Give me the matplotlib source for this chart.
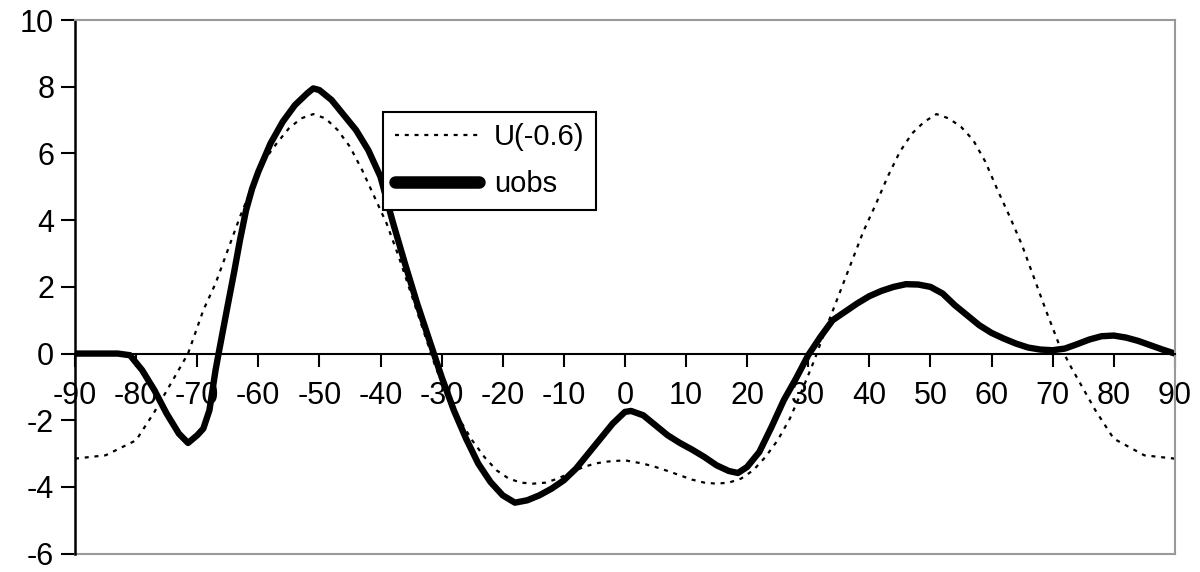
import matplotlib
matplotlib.use("Agg")
from matplotlib import pyplot as plt

plt.rcParams['font.family'] = ['Liberation Sans', 'DejaVu Sans']
plt.rcParams['axes.unicode_minus'] = False

# U(-0.6) profile
u_lat = [-90, -85, -80, -77, -74, -71.5, -69, -67, -65, -63, -61, -59, -57, -55, -53,
         -51, -49, -47, -45, -43, -41, -39, -37, -35, -33, -31, -29, -27, -25, -23,
         -21, -19, -17, -15, -13, -11, -9, -7, -5, -3, 0, 3, 5, 7, 9, 11, 13, 15, 17,
         19, 21, 23, 25, 27, 29, 31, 33, 35, 37, 39, 41, 43, 45, 47, 49, 51, 53, 55,
         57, 59, 61, 63, 65, 67, 69, 71, 73, 75, 77, 80, 85, 90]
u_val = [-3.15, -3.05, -2.6, -1.75, -0.8, 0.0, 1.3, 2.1, 3.1, 4.1, 5.0, 5.8, 6.3, 6.75, 7.05,
         7.18, 7.05, 6.7, 6.2, 5.5, 4.7, 3.9, 2.9, 1.8, 0.7, -0.4, -1.3, -2.0, -2.6, -3.1,
         -3.5, -3.75, -3.87, -3.9, -3.87, -3.75, -3.58, -3.42, -3.3, -3.24, -3.2, -3.3, -3.4,
         -3.52, -3.65, -3.78, -3.87, -3.9, -3.87, -3.75, -3.5, -3.1, -2.6, -1.95, -1.1, -0.2,
         0.8, 1.75, 2.7, 3.65, 4.45, 5.3, 6.05, 6.6, 6.95, 7.18, 7.05, 6.8, 6.4, 5.75, 4.9,
         4.1, 3.25, 2.25, 1.25, 0.3, -0.4, -1.05, -1.7, -2.55, -3.05, -3.15]

# observed profile
obs_lat = [-90, -85, -83, -81, -79, -77, -75, -73, -71.5, -70, -69, -68, -67, -66.5, -65,
           -64, -63, -62, -61, -60, -58, -56, -54, -52, -51, -50, -48, -46, -44, -42, -40,
           -38, -36, -34, -32, -30, -28, -26, -24, -22, -20, -18, -16, -14, -12, -10, -8,
           -6, -4, -2, 0, 1, 3, 5, 7, 9, 11, 13, 15, 17, 18.5, 20, 22, 24, 26, 28, 30, 32,
           34, 36, 38, 40, 42, 44, 46, 48, 50, 52, 54, 56, 58, 60, 62, 64, 66, 68, 70, 72,
           74, 76, 78, 80, 82, 84, 86, 88, 90]
obs_val = [0, 0, 0, -0.05, -0.5, -1.1, -1.8, -2.4, -2.68, -2.45, -2.25, -1.7, -0.5, 0.0, 1.45,
           2.4, 3.4, 4.3, 4.95, 5.45, 6.3, 6.95, 7.45, 7.8, 7.95, 7.9, 7.6, 7.15, 6.7, 6.1, 5.3,
           3.95, 2.7, 1.5, 0.4, -0.7, -1.7, -2.55, -3.3, -3.85, -4.25, -4.47, -4.4, -4.25,
           -4.05, -3.8, -3.45, -3.0, -2.55, -2.1, -1.75, -1.72, -1.85, -2.15, -2.45, -2.68,
           -2.88, -3.1, -3.35, -3.52, -3.58, -3.4, -2.95, -2.2, -1.4, -0.75, -0.05, 0.5, 1.0,
           1.25, 1.5, 1.72, 1.88, 2.0, 2.08, 2.07, 2.0, 1.8, 1.45, 1.15, 0.85, 0.62, 0.45,
           0.3, 0.18, 0.12, 0.1, 0.15, 0.28, 0.42, 0.52, 0.54, 0.48, 0.38, 0.25, 0.12, 0]

x_ticks = list(range(-90, 91, 10))
y_ticks = list(range(-6, 11, 2))

fig = plt.figure(figsize=(12, 5.72), dpi=100)
ax = fig.add_axes([0.0625, 0.032, 0.9165, 0.933])

ax.plot(u_lat, u_val, color='black', lw=1.6, linestyle=(0, (1.8, 2.6)), label='U(-0.6)')
ax.plot(obs_lat, obs_val, color='black', lw=4.6, solid_capstyle='round', label='uobs')

ax.set_xlim(-90, 90)
ax.set_ylim(-6, 10)
ax.set_xticks(x_ticks)
ax.set_yticks(y_ticks)
ax.tick_params(axis='both', labelsize=22, width=1.5, color='black')
ax.tick_params(axis='y', direction='out', length=10, pad=5)
ax.tick_params(axis='x', direction='out', length=9, pad=11)

# x axis runs through zero, frame in grey
ax.spines['bottom'].set_position(('data', 0))
ax.spines['bottom'].set_linewidth(1.5)
ax.spines['left'].set_linewidth(1.8)
for side in ['top', 'right']:
    ax.spines[side].set_color('#999999')
    ax.spines[side].set_linewidth(1.5)
ax.axhline(-6, color='#999999', lw=1.5, clip_on=False)

leg = ax.legend(loc='upper left', bbox_to_anchor=(0.28, 0.828), fontsize=21,
                frameon=True, fancybox=False, framealpha=1, edgecolor='black',
                borderaxespad=0, handlelength=2.9, handletextpad=0.5, borderpad=0.4,
                labelspacing=0.65)
leg.get_frame().set_linewidth(1.5)
leg.get_lines()[1].set_linewidth(9)

plt.savefig("out.png", dpi=100)
plt.close()
